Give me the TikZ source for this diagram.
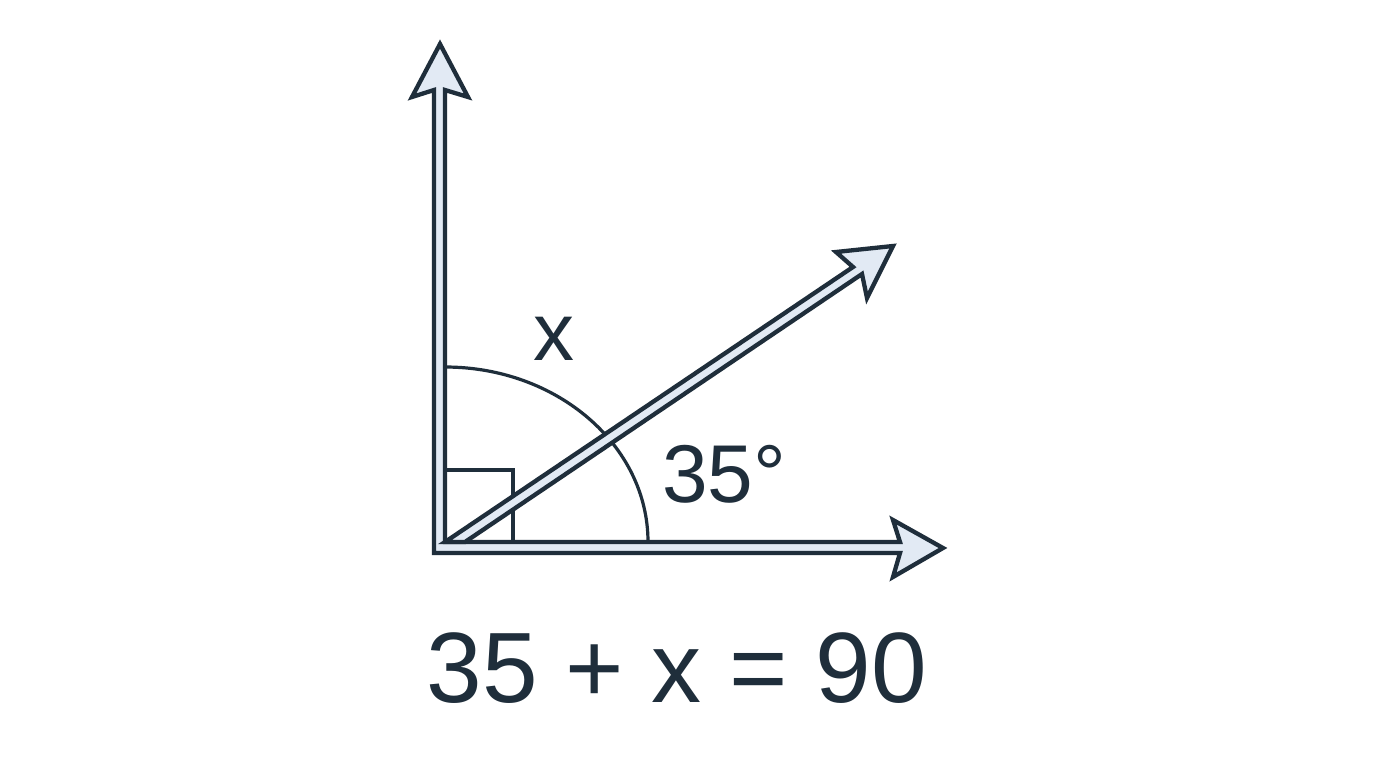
\documentclass[tikz,border=0pt]{standalone}
\usepackage{fontspec}
\setmainfont{Liberation Sans}
\usetikzlibrary{positioning,calc}
\definecolor{ink}{HTML}{1F2E3B}
\definecolor{pale}{HTML}{E2EAF4}

\begin{document}
\begin{tikzpicture}[
    x=1pt,y=-1pt,
    ray/.style={draw=ink,fill=pale,line width=4.3pt,line join=miter},
    guide/.style={draw=ink,line width=3.2pt},
    lbl/.style={text=ink,inner sep=0pt,font=\fontsize{82}{86}\selectfont},
    eqn/.style={text=ink,inner sep=0pt,font=\fontsize{100}{105}\selectfont}
  ]
    \useasboundingbox[fill=white] (0,0) rectangle (1376,768);

    \coordinate (O) at (445,542);

    %% angle marks
    \draw[guide] (445,470) -- (513,470) -- (513,542);
    \draw[guide] (445,367) arc[start angle=-90,end angle=0,x radius=203,y radius=175];

    %% the two perpendicular rays
    \draw[ray] (O) -- (900,542) -- (893,520) -- (943,548) -- (893,577)
      -- (900,553) -- (434,553) -- (434,90) -- (412,97) -- (440,44)
      -- (468,97) -- (445,90) -- cycle;

    %% the 35 degree ray
    \draw[ray] (O) -- (853,267) -- (836,252) -- (893,246) -- (867,298)
      -- (862,274) -- (465,542) -- cycle;

    %% labels
    \node[lbl] (lx) at (554,339) {x};
    \node[lbl] (la) at (724,474) {35°};
    \node[eqn] (eq) at (677,668) {35 + x = 90};
\end{tikzpicture}
\end{document}
